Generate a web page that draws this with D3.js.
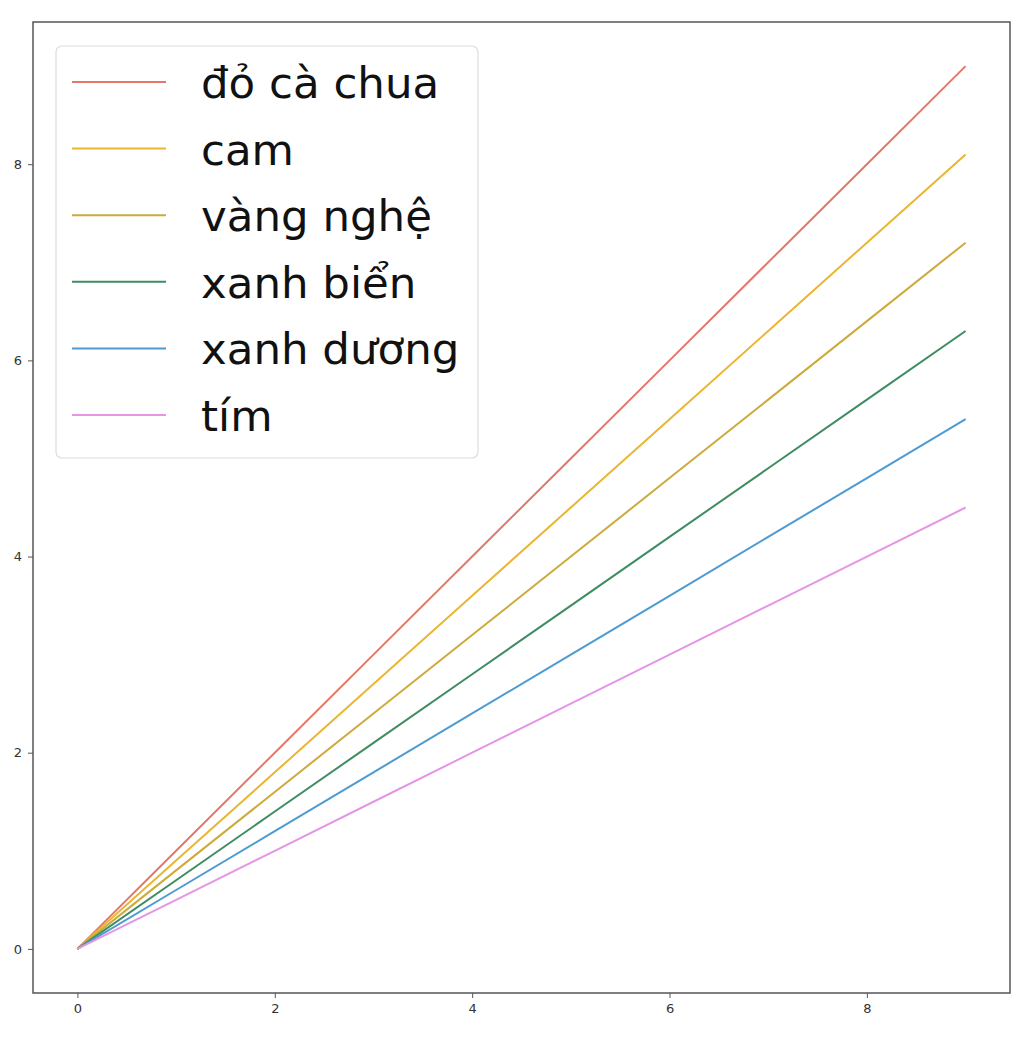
<!DOCTYPE html>
<html><head><meta charset="utf-8">
<script src="https://cdn.jsdelivr.net/npm/d3@7"></script>
<style>
body{margin:0;background:#fff;}
svg{display:block;font-family:"DejaVu Sans",sans-serif;}
</style></head><body>
<svg id="c" width="1024" height="1040"></svg>
<script>
const xValues = [0,1,2,3,4,5,6,7,8,9];
const seriesNames = ["đỏ cà chua","cam","vàng nghệ","xanh biển","xanh dương","tím"];
const seriesColors = ["#e2786a","#eab632","#cdaa3c","#3e8c62","#4d9bd2","#e496e4"];
const s0 = [0,1,2,3,4,5,6,7,8,9];
const s1 = [0,0.9,1.8,2.7,3.6,4.5,5.4,6.3,7.2,8.1];
const s2 = [0,0.8,1.6,2.4,3.2,4.0,4.8,5.6,6.4,7.2];
const s3 = [0,0.7,1.4,2.1,2.8,3.5,4.2,4.9,5.6,6.3];
const s4 = [0,0.6,1.2,1.8,2.4,3.0,3.6,4.2,4.8,5.4];
const s5 = [0,0.5,1.0,1.5,2.0,2.5,3.0,3.5,4.0,4.5];
const seriesValues = [s0,s1,s2,s3,s4,s5];
const xTicks = [0,2,4,6,8];
const yTicks = [0,2,4,6,8];

const svg = d3.select("#c");
const L=33, R=1010, T=22, B=993;
const x = d3.scaleLinear().domain([-0.45,9.45]).range([L,R]);
const y = d3.scaleLinear().domain([-0.45,9.45]).range([B,T]);

const line = d3.line().x((d,i)=>x(xValues[i])).y(d=>y(d));
seriesValues.forEach((vals,k)=>{
  svg.append("path").datum(vals).attr("d",line)
    .attr("fill","none").attr("stroke",seriesColors[k]).attr("stroke-width",2);
});

const xa = svg.append("g").attr("transform",`translate(0,${B})`)
  .call(d3.axisBottom(x).tickValues(xTicks).tickSize(5).tickPadding(6).tickFormat(d3.format("d")));
const ya = svg.append("g").attr("transform",`translate(${L},0)`)
  .call(d3.axisLeft(y).tickValues(yTicks).tickSize(5).tickPadding(6).tickFormat(d3.format("d")));
[xa,ya].forEach(a=>{
  a.select(".domain").remove();
  a.selectAll("text").attr("font-size",13).attr("fill","#333").attr("font-family","DejaVu Sans");
  a.selectAll("line").attr("stroke","#555");
});
svg.append("rect").attr("x",L).attr("y",T).attr("width",R-L).attr("height",B-T)
  .attr("fill","none").attr("stroke","#555").attr("stroke-width",1.5);

// legend
const lg = svg.append("g");
lg.append("rect").attr("x",56).attr("y",46).attr("width",422).attr("height",412)
  .attr("rx",6).attr("fill","#fff").attr("fill-opacity",0.85).attr("stroke","#ddd").attr("stroke-width",1.2);
seriesNames.forEach((n,k)=>{
  const cy = 82 + k*66.6;
  lg.append("line").attr("x1",72).attr("x2",166).attr("y1",cy).attr("y2",cy)
    .attr("stroke",seriesColors[k]).attr("stroke-width",2);
  lg.append("text").attr("x",201).attr("y",cy+16).attr("font-size",43.5).attr("fill","#111").text(n);
});
</script></body></html>
